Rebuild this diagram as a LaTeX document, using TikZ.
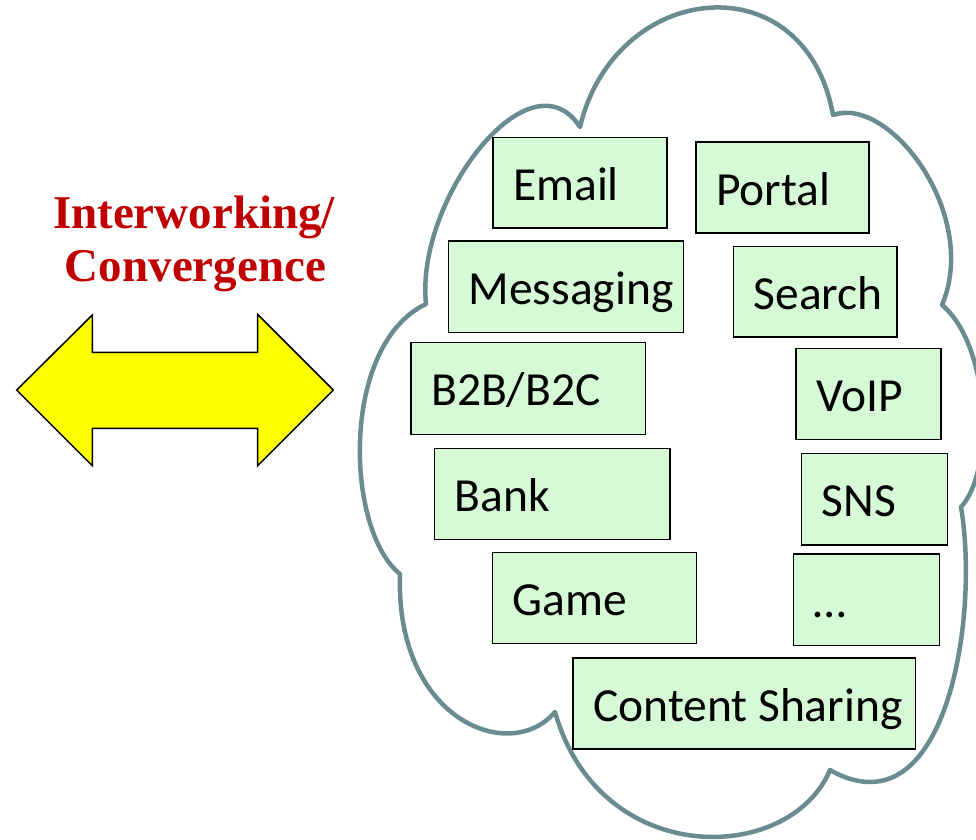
\documentclass[tikz,border=0pt]{standalone}
\usepackage{fontspec}
\setmainfont{Carlito}
\newfontfamily\titlefont{Liberation Serif}
\definecolor{cloudline}{RGB}{106,140,144}
\definecolor{boxfill}{RGB}{213,250,213}
\definecolor{titlered}{RGB}{192,0,0}
\definecolor{arrowyellow}{RGB}{255,255,0}
\tikzset{
  cloudpath/.style={draw=cloudline, line width=4.5pt, line join=round},
  svcbox/.style={draw=black, fill=boxfill, line width=1.8pt, rectangle, inner sep=0pt},
  svctext/.style={inner sep=0pt, font=\fontsize{47.5}{53}\selectfont, text=black},
  titletext/.style={inner sep=0pt, text=titlered, font=\titlefont\fontsize{47}{53}\selectfont\bfseries},
  bigarrow/.style={draw=black, fill=arrowyellow, line width=1.5pt, line join=miter}
}
\newcommand\svc[6]{%
  \node[svcbox, minimum width={#4-#2}, minimum height={#5-#3}, anchor=north west] (#1) at (#2,#3) {};
  \node[svctext, anchor=base west] (#1t) at ([xshift=21pt,yshift=-64pt]#1.north west) {#6};
}
\begin{document}
\begin{tikzpicture}[x=1pt,y=-1pt]
\useasboundingbox (0,0) rectangle (976,839);
% cloud
\path[cloudpath] (580,127) .. controls (615,-20) and (805,-40) .. (833,115)
 .. controls (890,95) and (980,215) .. (942,305)
 .. controls (990,345) and (995,470) .. (961,507)
 .. controls (980,620) and (945,835) .. (830,770)
 .. controls (790,865) and (600,870) .. (555,712)
 .. controls (510,765) and (395,720) .. (400,574)
 .. controls (345,530) and (340,345) .. (426,304)
 .. controls (415,200) and (530,50) .. (580,127) -- cycle;
% boxes
\svc{email}{492}{136.5}{666}{227}{Email}
\svc{portal}{695}{141}{868}{232}{Portal}
\svc{messaging}{447.5}{240}{682.5}{331.5}{Messaging}
\svc{search}{732.5}{245.5}{896}{336}{Search}
\svc{btob}{410}{341.5}{644.5}{433.5}{B2B/B2C}
\svc{voip}{795}{347.5}{940}{438.5}{VoIP}
\svc{bank}{433.5}{447.5}{669}{538.5}{Bank}
\svc{sns}{800.5}{452.5}{946.5}{544}{SNS}
\svc{game}{491.5}{551.5}{695.5}{642.5}{Game}
\svc{dots}{792.5}{553}{938.5}{644.5}{…}
\svc{content}{572}{657}{914.5}{748}{Content Sharing}
% title
\node[titletext, anchor=base] (title1) at (194,228.3) {Interworking/};
\node[titletext, anchor=base] (title2) at (195.5,281.7) {Convergence};
% double arrow
\path[bigarrow] (16.7,390) -- (92.3,315) -- (92.3,352.3) -- (257.7,352.3) -- (257.7,314.5)
  -- (333.3,390) -- (257.7,465.7) -- (257.7,428.3) -- (92.3,428.3) -- (92.3,465.7) -- cycle;
\end{tikzpicture}
\end{document}
